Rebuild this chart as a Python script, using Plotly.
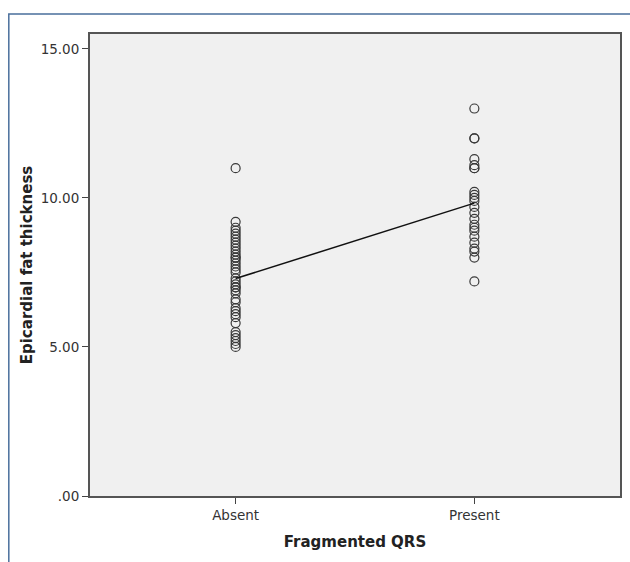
import plotly.graph_objects as go
import numpy as np

categories = ["Absent", "Present"]
absent_values = [5.0, 5.1, 5.2, 5.3, 5.4, 5.5, 5.8,
                 6.0, 6.1, 6.2, 6.3, 6.5, 6.6, 6.8, 6.9,
                 7.0, 7.0, 7.1, 7.2, 7.3, 7.5, 7.6, 7.7, 7.8, 7.9,
                 8.0, 8.0, 8.1, 8.2, 8.3, 8.4, 8.5, 8.6, 8.7, 8.8, 8.9,
                 9.0, 9.2, 11.0]
present_values = [13.0, 12.0, 12.0, 11.3, 11.1, 11.0, 11.0,
                  10.2, 10.1, 10.0, 9.9, 9.7, 9.5, 9.3, 9.1, 9.0,
                  8.9, 8.7, 8.5, 8.3, 8.2, 8.0, 7.2]
y_tick_vals = [0, 5, 10, 15]
y_tick_text = [".00", "5.00", "10.00", "15.00"]

groups = [absent_values, present_values]
means = [float(np.mean(g)) for g in groups]

fig = go.Figure()
for i, vals in enumerate(groups):
    fig.add_trace(go.Scatter(
        x=[i] * len(vals), y=vals, mode="markers",
        marker=dict(symbol="circle-open", size=9, color="#3a3a3a",
                    line=dict(width=1.2, color="#3a3a3a")),
        showlegend=False, hoverinfo="y"))
fig.add_trace(go.Scatter(
    x=list(range(len(categories))), y=means, mode="lines",
    line=dict(color="#111111", width=1.5), showlegend=False))

W, H = 630, 562
L, R, T, B = 90, 8, 34, 66
pw, ph = W - L - R, H - T - B

def px_x(p):
    return (p - L) / pw

def px_y(p):
    return (H - B - p) / ph

fig.add_shape(type="rect", xref="paper", yref="paper",
              x0=px_x(8.5), x1=px_x(650), y0=px_y(14), y1=px_y(600),
              line=dict(color="#4a6f9c", width=1.5), layer="below")

fig.update_layout(
    width=W, height=H,
    margin=dict(l=L, r=R, t=T, b=B, pad=0),
    paper_bgcolor="white", plot_bgcolor="#f0f0f0",
    font=dict(family="DejaVu Sans", color="#333333", size=13),
    xaxis=dict(range=[-0.61, 1.61], tickvals=[0, 1], ticktext=categories,
               ticks="outside", ticklen=6, tickcolor="#444", tickwidth=1,
               showline=True, linecolor="#555555", linewidth=2, mirror=True,
               showgrid=False, zeroline=False,
               tickfont=dict(size=13.5, color="#333333"),
               title=dict(text="<b>Fragmented QRS</b>", standoff=14,
                          font=dict(size=15, color="#222222"))),
    yaxis=dict(range=[0, 15.5], tickvals=y_tick_vals, ticktext=y_tick_text,
               ticks="outside", ticklen=6, tickcolor="#444", tickwidth=1,
               showline=True, linecolor="#555555", linewidth=2, mirror=True,
               showgrid=False, zeroline=False,
               tickfont=dict(size=13.5, color="#333333"),
               title=dict(text="<b>Epicardial fat thickness</b>", standoff=4,
                          font=dict(size=15, color="#222222"))),
)

fig.write_html("out.html", config={"displayModeBar": False},
               post_script="document.body.style.margin='0';")
